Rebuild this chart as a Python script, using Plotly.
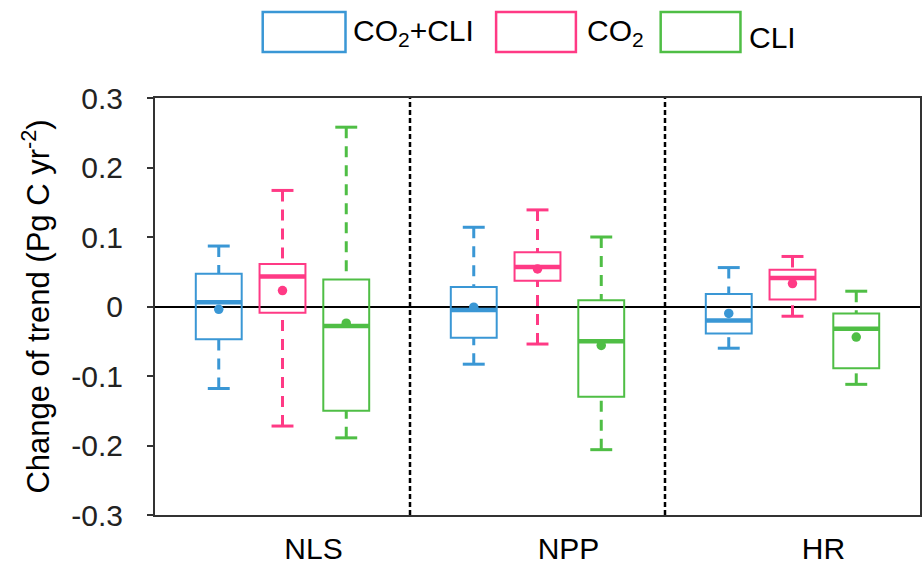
import plotly.graph_objects as go

# ---------------- data ----------------
groups = ["NLS", "NPP", "HR"]
series = ["CO<sub>2</sub>+CLI", "CO<sub>2</sub>", "CLI"]

# per series: values for NLS, NPP, HR
lower_whisker = {
    "CO2+CLI": [-0.118, -0.083, -0.060],
    "CO2":     [-0.172, -0.054, -0.014],
    "CLI":     [-0.189, -0.206, -0.112],
}
q1_vals = {
    "CO2+CLI": [-0.047, -0.045, -0.039],
    "CO2":     [-0.009, 0.037, 0.010],
    "CLI":     [-0.150, -0.130, -0.089],
}
median_vals = {
    "CO2+CLI": [0.006, -0.005, -0.020],
    "CO2":     [0.043, 0.057, 0.041],
    "CLI":     [-0.028, -0.050, -0.032],
}
q3_vals = {
    "CO2+CLI": [0.047, 0.028, 0.018],
    "CO2":     [0.061, 0.078, 0.053],
    "CLI":     [0.039, 0.009, -0.010],
}
upper_whisker = {
    "CO2+CLI": [0.087, 0.114, 0.056],
    "CO2":     [0.167, 0.139, 0.072],
    "CLI":     [0.258, 0.100, 0.022],
}
mean_vals = {
    "CO2+CLI": [-0.004, -0.001, -0.010],
    "CO2":     [0.023, 0.054, 0.033],
    "CLI":     [-0.024, -0.056, -0.044],
}
ytick_vals = [-0.3, -0.2, -0.1, 0, 0.1, 0.2, 0.3]
ytick_text = ["-0.3", "-0.2", "-0.1", "0", "0.1", "0.2", "0.3"]

# ---------------- style ----------------
keys = ["CO2+CLI", "CO2", "CLI"]
colors = {"CO2+CLI": "#3A97D5", "CO2": "#FF3A85", "CLI": "#4FBE45"}
offsets = {"CO2+CLI": -0.25, "CO2": 0.0, "CLI": 0.25}
box_w = 0.18
cap_hw = 0.043
FONT = "Liberation Sans, Arial, sans-serif"

fig = go.Figure()

for k in keys:
    c = colors[k]
    xs = [i + offsets[k] for i in range(len(groups))]
    q1 = q1_vals[k]
    q3 = q3_vals[k]
    med = median_vals[k]
    lo = lower_whisker[k]
    hi = upper_whisker[k]
    mn = mean_vals[k]

    # box body
    fig.add_trace(go.Box(
        x=xs, q1=q1, median=med, q3=q3, lowerfence=q1, upperfence=q3,
        width=box_w, line=dict(color=c, width=2), fillcolor="rgba(0,0,0,0)",
        boxpoints=False, showlegend=False, hoverinfo="skip",
    ))

    # dashed whiskers
    wx, wy = [], []
    for x, a, b, l, h in zip(xs, q1, q3, lo, hi):
        wx += [x, x, None, x, x, None]
        wy += [h, b, None, l, a, None]
    fig.add_trace(go.Scatter(
        x=wx, y=wy, mode="lines", line=dict(color=c, width=3, dash="11px,8px"),
        showlegend=False, hoverinfo="skip",
    ))

    # caps
    cx, cy = [], []
    for x, l, h in zip(xs, lo, hi):
        cx += [x - cap_hw, x + cap_hw, None, x - cap_hw, x + cap_hw, None]
        cy += [h, h, None, l, l, None]
    fig.add_trace(go.Scatter(
        x=cx, y=cy, mode="lines", line=dict(color=c, width=3),
        showlegend=False, hoverinfo="skip",
    ))

    # thick median
    mx, my = [], []
    for x, m in zip(xs, med):
        mx += [x - box_w / 2, x + box_w / 2, None]
        my += [m, m, None]
    fig.add_trace(go.Scatter(
        x=mx, y=my, mode="lines", line=dict(color=c, width=4.5),
        showlegend=False, hoverinfo="skip",
    ))

    # mean dots
    fig.add_trace(go.Scatter(
        x=xs, y=mn, mode="markers", marker=dict(color=c, size=9.5),
        showlegend=False, hoverinfo="skip",
    ))

# group separators
for xb in [0.5, 1.5]:
    fig.add_shape(type="line", xref="x", yref="paper", x0=xb, x1=xb, y0=0, y1=1,
                  line=dict(color="black", width=2.5, dash="5px,3px"))

# custom legend
L = 155.0
W = 767.0
B = 515.0
H = 417.0


def px_x(p):
    return (p - L) / W


def px_y(p):
    return (B - p) / H


legend_rects = [(263, 346), (497, 577), (662, 742)]
legend_text_x = [352, 586, 749]
legend_text_y = [32, 32, 37]
for k, lab, (r0, r1), tx, ty in zip(keys, series, legend_rects, legend_text_x, legend_text_y):
    fig.add_shape(type="rect", xref="paper", yref="paper",
                  x0=px_x(r0), x1=px_x(r1), y0=px_y(52), y1=px_y(12),
                  line=dict(color=colors[k], width=2.5), fillcolor="white")
    fig.add_annotation(xref="paper", yref="paper", x=px_x(tx), y=px_y(ty),
                       xanchor="left", yanchor="middle", showarrow=False,
                       text=lab, font=dict(family=FONT, size=30, color="black"))

fig.update_layout(
    width=924, height=574,
    margin=dict(l=155, r=2, t=98, b=59),
    plot_bgcolor="white", paper_bgcolor="white",
    boxmode="overlay",
    font=dict(family=FONT, size=30, color="black"),
    showlegend=False,
)
fig.update_xaxes(
    range=[-0.5, 2.5], tickvals=list(range(len(groups))), ticktext=groups,
    ticks="", showgrid=False, zeroline=False, showline=True, mirror=True,
    linecolor="#333333", linewidth=2, ticklabelshift=31, ticklabelstandoff=6,
    tickfont=dict(family=FONT, size=30, color="black"),
)
fig.update_yaxes(
    range=[-0.3, 0.3], tickvals=ytick_vals, ticktext=ytick_text,
    ticks="outside", ticklen=6, tickwidth=1.5, tickcolor="#333333",
    showgrid=False, zeroline=True, zerolinecolor="black", zerolinewidth=1.5,
    showline=True, mirror=True, linecolor="#333333", linewidth=2,
    ticklabelstandoff=18,
    tickfont=dict(family=FONT, size=30, color="#222222"),
    title=dict(text="Change of trend (Pg C yr<sup>-2</sup>)", standoff=12,
               font=dict(family=FONT, size=31, color="black")),
)

fig.write_html("out.html", config={"displayModeBar": False},
               post_script="document.body.style.margin='0';")
